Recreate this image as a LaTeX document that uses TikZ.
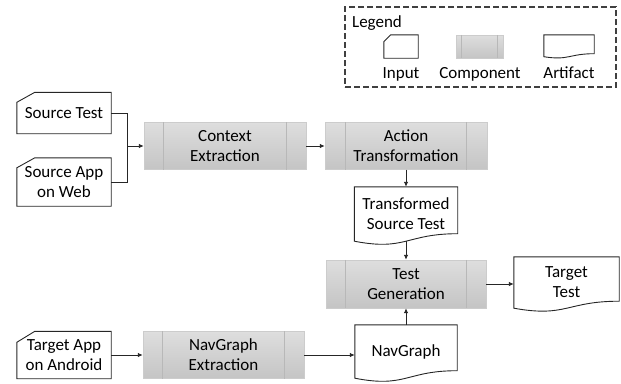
\documentclass[tikz,border=0pt]{standalone}
\usepackage{fontspec}
\setmainfont{Carlito}
\usepackage{tikz}
\usetikzlibrary{positioning}
\usetikzlibrary{arrows.meta}

\tikzset{
  box/.style={inner sep=0pt, align=center, font=\fontsize{17}{20}\selectfont},
  comp/.style={box, draw=black!20, top color=black!13, bottom color=black!23},
  compline/.style={draw=black!28, line width=0.8pt},
  outline/.style={draw=black!85, line width=0.9pt},
  conn/.style={draw=black!85, line width=0.9pt},
  arrow/.style={conn, -{Latex[length=5pt,width=4.5pt]}}
}

\begin{document}
\begin{tikzpicture}[x=1pt,y=-1pt]
  \useasboundingbox (0,0) rectangle (621,383);

  % legend
  \node[draw=black!75, line width=1.1pt, dash pattern=on 6pt off 3pt,
        minimum width=271pt, minimum height=80pt] at (480.5,47) (legendbox) {};
  \node[box, anchor=base] at (377,27) (legendtitle) {Legend};
  \node[box, minimum width=34pt, minimum height=23pt] at (401,46.5) (lginput) {};
  \node[comp, minimum width=47pt, minimum height=23pt] at (479.5,46.5) (lgcomp) {};
  \node[box, minimum width=50pt, minimum height=21.5pt] at (569,45.75) (lgartifact) {};
  \node[box, anchor=base] at (401,78) (lginputtext) {Input};
  \node[box, anchor=base] at (480,78) (lgcomptext) {Component};
  \node[box, anchor=base] at (569,78) (lgartifacttext) {Artifact};

  % inputs
  \node[box, minimum width=94pt, minimum height=41pt] at (64,113) (srctest) {Source Test};
  \node[box, minimum width=94pt, minimum height=48pt] at (64,182) (srcapp) {Source App\\on Web};
  \node[box, minimum width=94pt, minimum height=47pt] at (64,355) (tgtapp) {Target App\\on Android};

  % components
  \node[comp, minimum width=162pt, minimum height=47pt] at (225,146) (ctxext) {Context\\Extraction};
  \node[comp, minimum width=162pt, minimum height=47pt] at (406,146) (acttrans) {Action\\Transformation};
  \node[comp, minimum width=160pt, minimum height=48pt] at (406,284) (testgen) {Test\\Generation};
  \node[comp, minimum width=161pt, minimum height=47pt] at (223.5,355) (navext) {NavGraph\\Extraction};

  % artifacts
  \node[box, minimum width=103pt, minimum height=54pt] at (406,214) (transtest) {Transformed\\Source Test};
  \node[box, minimum width=105pt, minimum height=51pt] at (566.5,282.5) (target) {Target\\Test};
  \node[box, minimum width=102pt, minimum height=53pt] at (406,351.5) (navgraph) {NavGraph};

  % shapes
  \foreach \n/\cx/\cy in {srctest/18/10, srcapp/18/10, tgtapp/18/11, lginput/7/7}
    \draw[outline] (\n.south west) -- (\n.south east) -- (\n.north east)
      -- ([xshift=\cx pt]\n.north west) -- ([yshift=-\cy pt]\n.north west) -- cycle;
  \foreach \n/\i in {ctxext/20, acttrans/21, testgen/20, navext/20, lgcomp/6}
    \draw[compline] ([xshift=\i pt]\n.north west) -- ([xshift=\i pt]\n.south west)
      ([xshift=-\i pt]\n.north east) -- ([xshift=-\i pt]\n.south east);
  \foreach \n/\u/\d in {transtest/7.5/10, target/7/9.5, navgraph/7.5/10, lgartifact/3/4}
    \draw[outline] (\n.south west) -- (\n.north west) -- (\n.north east)
      -- ([yshift=\u pt]\n.south east) .. controls ([yshift=\u pt]\n.south)
      and ([yshift=-\d pt]\n.south) .. (\n.south west) -- cycle;

  % connectors
  \coordinate[left=16pt of ctxext.west] (join);
  \draw[conn] (srctest.east) -| (join);
  \draw[conn] (srcapp.east) -| (join);
  \draw[arrow] (join) -- (ctxext.west);
  \draw[arrow] (ctxext.east) -- (acttrans.west);
  \draw[arrow] (acttrans.south) -- (transtest.north);
  \draw[arrow] (transtest.south) -- (testgen.north);
  \draw[arrow] (testgen.east) -- (testgen.east -| target.west);
  \draw[arrow] (tgtapp.east) -- (navext.west);
  \draw[arrow] (navext.east) -- (navext.east -| navgraph.west);
  \draw[arrow] (navgraph.north) -- (testgen.south);
\end{tikzpicture}
\end{document}
